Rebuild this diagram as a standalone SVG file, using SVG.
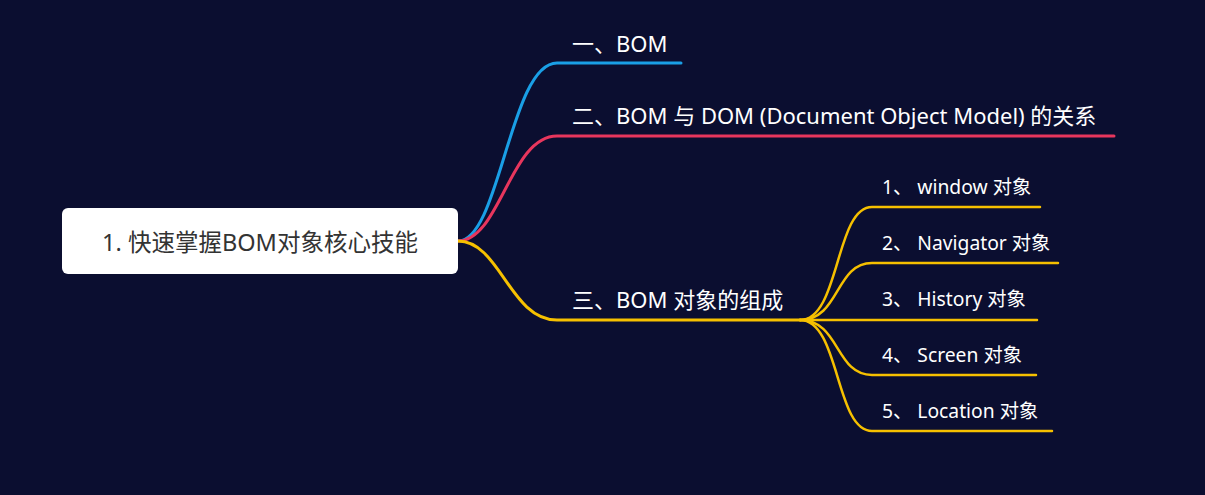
<svg xmlns="http://www.w3.org/2000/svg" width="1205" height="495" viewBox="0 0 1205 495">
  <style>
    .t { font-family: "Noto Sans", "Noto Sans CJK SC", sans-serif; fill: #ffffff; }
    .main { font-size: 22px; }
    .sub { font-size: 19.3px; }
    .root { font-size: 23.5px; fill: #333333; }
    .ln { fill: none; stroke-linecap: round; }
    .blue { stroke: #1a9fe6; stroke-width: 3; }
    .red { stroke: #e8365d; stroke-width: 3; }
    .yel { stroke: #f6c000; stroke-width: 3; }
    .yel2 { stroke: #f6c000; stroke-width: 2.5; }
  </style>
  <rect width="1205" height="495" fill="#0b0e30"/>

  <g id="connectors">
    <path class="ln blue" d="M458 241 C 500 241, 510 63, 557 63 L 681 63"/>
    <path class="ln red" d="M458 241 C 500 241, 510 136, 557 136 L 1114 136"/>
    <path class="ln yel" d="M458 241 C 500 241, 510 320, 557 320 L 800 320"/>
    <path class="ln yel2" d="M800 320 C 840 320, 835 207, 872 207 L 1040 207"/>
    <path class="ln yel2" d="M800 320 C 840 320, 835 263, 872 263 L 1058 263"/>
    <path class="ln yel2" d="M800 320 C 840 320, 835 320, 872 320 L 1037 320"/>
    <path class="ln yel2" d="M800 320 C 840 320, 835 375, 872 375 L 1036 375"/>
    <path class="ln yel2" d="M800 320 C 840 320, 835 431, 872 431 L 1052 431"/>
  </g>

  <g id="root">
    <rect x="62" y="208" width="396" height="66" rx="6" fill="#ffffff"/>
    <text class="t root" x="260" y="251" text-anchor="middle">1. 快速掌握BOM对象核心技能</text>
  </g>

  <g id="bom">
    <text class="t main" x="572" y="52">一、BOM</text>
  </g>
  <g id="bom-dom">
    <text class="t main" x="572" y="124">二、BOM 与 DOM (Document Object Model) 的关系</text>
  </g>
  <g id="bom-parts">
    <text class="t main" x="572" y="308">三、BOM 对象的组成</text>
  </g>
  <g id="window">
    <text class="t sub" x="882" y="194">1、 window 对象</text>
  </g>
  <g id="navigator">
    <text class="t sub" x="882" y="250">2、 Navigator 对象</text>
  </g>
  <g id="history">
    <text class="t sub" x="882" y="306">3、 History 对象</text>
  </g>
  <g id="screen">
    <text class="t sub" x="882" y="362">4、 Screen 对象</text>
  </g>
  <g id="location">
    <text class="t sub" x="882" y="418">5、 Location 对象</text>
  </g>
</svg>
